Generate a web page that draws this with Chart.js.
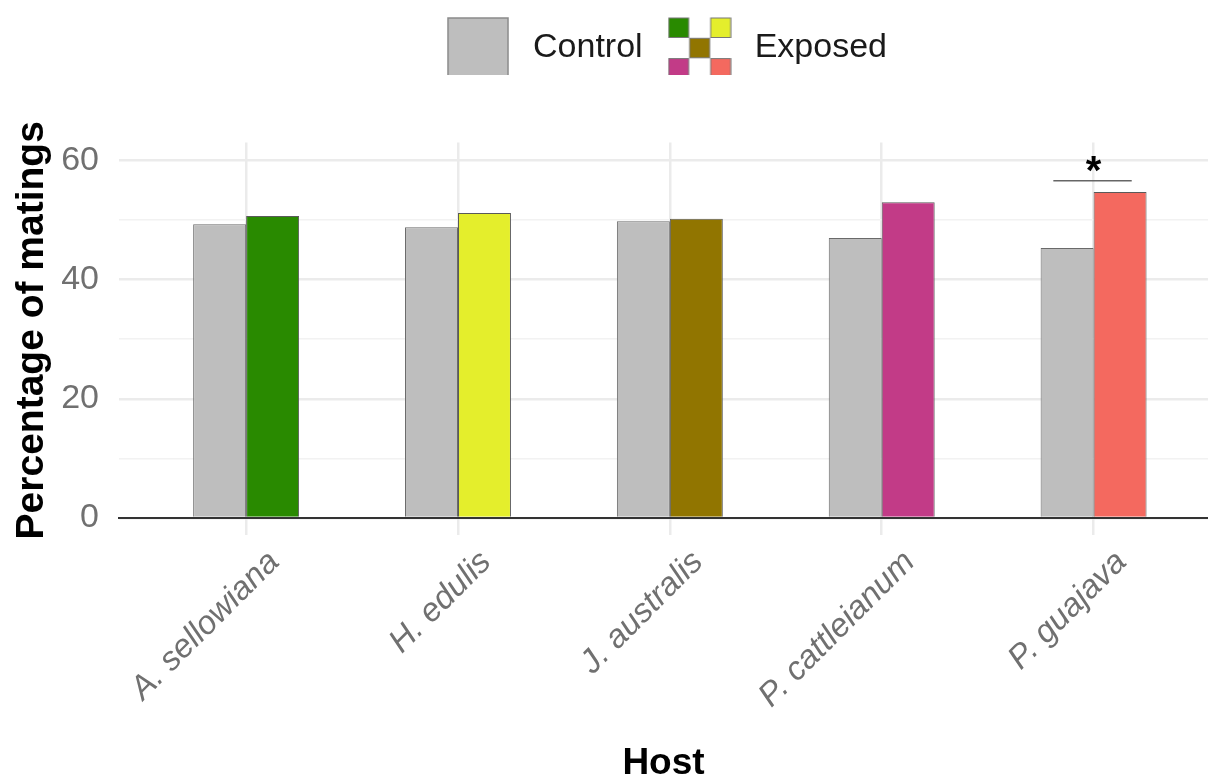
<!DOCTYPE html>
<html lang="en">
<head>
<meta charset="UTF-8">
<title>Percentage of matings by host</title>
<script src="https://cdn.jsdelivr.net/npm/chart.js"></script>
<style>
  html, body { margin: 0; padding: 0; background: #ffffff; }
  canvas { display: block; }
</style>
</head>
<body>
<canvas id="chart" width="1208" height="778"></canvas>
<script>
const hosts = ['A. sellowiana', 'H. edulis', 'J. australis', 'P. cattleianum', 'P. guajava'];
const seriesNames = ['Control', 'Exposed'];
const control = [49.3, 48.8, 49.8, 47.0, 45.3];
const exposed = [50.7, 51.2, 50.2, 53.0, 54.7];
const exposedColors = ['#298a00', '#e4ee2c', '#917500', '#c23b87', '#f4695f'];
const controlColor = '#bebebe';
const yMajor = [0, 20, 40, 60];
// significance mark over P. guajava: [from, to, height] and [text, x, y]
const sigLine = [3.81, 4.18, 56.6];
const sigStar = ['*', 4, 56.0];

const FONT = '"Liberation Sans", Arial, Helvetica, sans-serif';
Chart.defaults.font.family = FONT;

// legend key glyphs
function swatch(fill) {
    const c = document.createElement('canvas');
    c.width = 62; c.height = 62;
    const g = c.getContext('2d');
    g.fillStyle = fill;
    g.fillRect(1, 1, 60, 60);
    g.strokeStyle = '#8a8a8a';
    g.lineWidth = 1.5;
    g.strokeRect(1, 1, 60, 60);
    return c;
}
function checker(colors) {
    const c = document.createElement('canvas');
    c.width = 64; c.height = 62;
    const g = c.getContext('2d');
    const cells = [[0, 0], [2, 0], [1, 1], [0, 2], [2, 2]];
    colors.forEach((col, i) => {
        const px = cells[i][0] * 21 + 1, py = cells[i][1] * 20.3 + 1;
        g.fillStyle = col;
        g.fillRect(px, py, 20, 19.5);
        g.strokeStyle = '#777';
        g.lineWidth = 1;
        g.strokeRect(px, py, 20, 19.5);
    });
    return c;
}
const keyControl = swatch(controlColor);
const keyExposed = checker(exposedColors);

const sigPlugin = {
    id: 'significance',
    afterDatasetsDraw(chart) {
        const {ctx, scales: {x, y}} = chart;
        ctx.save();
        const yy = y.getPixelForValue(sigLine[2]);
        ctx.strokeStyle = '#666';
        ctx.lineWidth = 1.5;
        ctx.beginPath();
        ctx.moveTo(x.getPixelForValue(sigLine[0]), yy);
        ctx.lineTo(x.getPixelForValue(sigLine[1]), yy);
        ctx.stroke();
        ctx.fillStyle = '#000';
        ctx.font = 'bold 40px ' + FONT;
        ctx.textAlign = 'center';
        ctx.textBaseline = 'alphabetic';
        ctx.fillText(sigStar[0], x.getPixelForValue(sigStar[1]), y.getPixelForValue(sigStar[2]));
        ctx.restore();
    }
};

new Chart(document.getElementById('chart'), {
    type: 'bar',
    data: {
        datasets: [
            {
                label: seriesNames[0],
                data: control.map((v, i) => ({x: i, y: v})),
                backgroundColor: controlColor,
                borderColor: '#6a6a6a',
                borderWidth: 1
            },
            {
                label: seriesNames[1],
                data: exposed.map((v, i) => ({x: i, y: v})),
                backgroundColor: exposedColors,
                borderColor: '#5a5a5a',
                borderWidth: 1
            }
        ]
    },
    options: {
        responsive: false,
        animation: false,
        categoryPercentage: 0.5,
        barPercentage: 1.0,
        layout: { padding: { top: 12, left: 0, right: 0, bottom: 0 } },
        plugins: {
            tooltip: { enabled: false },
            legend: {
                position: 'top',
                fullSize: false,
                labels: {
                    usePointStyle: true,
                    pointStyleWidth: 76,
                    padding: 19,
                    color: '#1a1a1a',
                    font: { size: 34 },
                    generateLabels: () => [
                        { text: seriesNames[0], pointStyle: keyControl, fillStyle: controlColor, lineWidth: 0, hidden: false, datasetIndex: 0, fontColor: '#1a1a1a' },
                        { text: seriesNames[1], pointStyle: keyExposed, fillStyle: exposedColors[0], lineWidth: 0, hidden: false, datasetIndex: 1, fontColor: '#1a1a1a' }
                    ]
                }
            }
        },
        scales: {
            x: {
                type: 'linear',
                // panel is cut at the right edge, as in the original
                min: -0.6,
                max: 4.54,
                offset: false,
                grid: { offset: false, color: '#ebebeb', lineWidth: 2.5, drawTicks: true, tickLength: 17, tickColor: '#ebebeb' },
                border: { display: true, color: '#333333', width: 2 },
                ticks: {
                    stepSize: 1,
                    includeBounds: false,
                    autoSkip: false,
                    minRotation: 45,
                    maxRotation: 45,
                    labelOffset: 28,
                    padding: 8,
                    color: '#707070',
                    font: { size: 33, style: 'italic' },
                    callback: v => hosts[v] ?? ''
                },
                title: {
                    display: true,
                    text: 'Host',
                    color: '#000',
                    font: { size: 37, weight: 'bold', lineHeight: 0.75 },
                    padding: { top: 0, bottom: 0 }
                },
                afterFit: s => { s.height = 260; }
            },
            x2: {
                type: 'linear',
                position: 'top',
                min: 0,
                max: 1,
                grid: { display: false, drawTicks: false },
                border: { display: false },
                ticks: { display: false },
                afterFit: s => { s.height = 67.6; }
            },
            y: {
                min: 0,
                max: 63,
                grid: {
                    drawTicks: false,
                    color: c => yMajor.includes(c.tick.value) ? '#ebebeb' : '#f2f2f2',
                    lineWidth: c => yMajor.includes(c.tick.value) ? 2.5 : 1.5
                },
                border: { display: false },
                ticks: {
                    stepSize: 10,
                    includeBounds: false,
                    padding: 20,
                    color: '#707070',
                    font: { size: 34 },
                    callback: v => yMajor.includes(v) ? v : ''
                },
                title: {
                    display: true,
                    text: 'Percentage of matings',
                    color: '#000',
                    font: { size: 39, weight: 'bold' },
                    padding: { top: 9, bottom: 0 }
                },
                afterFit: s => { s.width = 119; }
            }
        }
    },
    plugins: [sigPlugin]
});
</script>
</body>
</html>
